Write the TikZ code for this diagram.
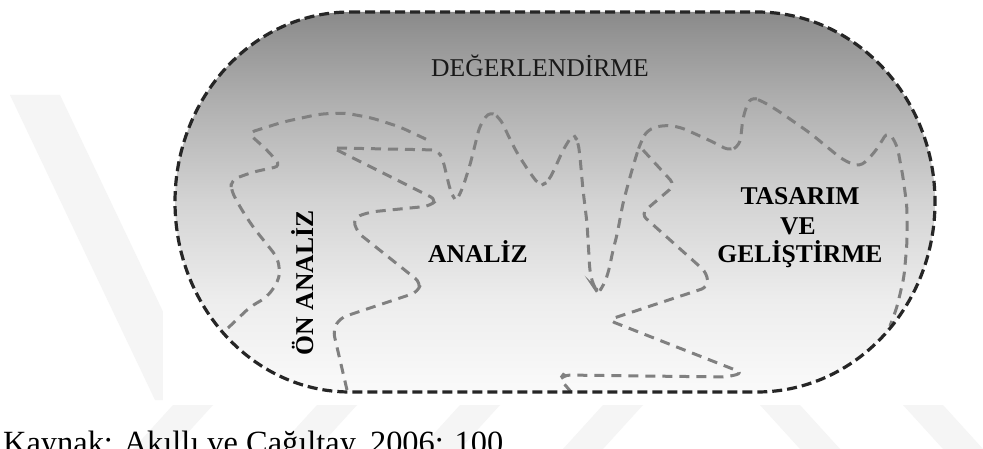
\documentclass[tikz,border=0pt]{standalone}
\usepackage{fontspec}
\setmainfont{Liberation Serif}
\begin{document}
\pgfdeclareverticalshading{stadshade}{100bp}{%
  color(0bp)=(white!98!black); color(25bp)=(white!98!black);
  color(37bp)=(white!93!black); color(50bp)=(white!83!black);
  color(63bp)=(white!69!black); color(72bp)=(white!58!black);
  color(75bp)=(white!54!black); color(100bp)=(white!54!black)}
\begin{tikzpicture}[x=1pt,y=-1pt,
  wmark/.style={fill=black!4,draw=none},
  border/.style={draw=black!85,line width=3.2pt,dash pattern=on 10pt off 5pt},
  flow/.style={draw=black!50,line width=3pt,dash pattern=on 10pt off 7pt,rounded corners=7pt},
  lbl/.style={font=\fontsize{25.6}{29}\selectfont\bfseries,text=black,inner sep=0pt,align=center},
  degtxt/.style={font=\fontsize{25.6}{29}\selectfont,text=black!90,inner sep=0pt},
  captxt/.style={font=\fontsize{32.4}{38}\selectfont,text=black,inner sep=0pt}]
\clip (0,0) rectangle (983,449);
\fill[white] (0,0) rectangle (983,449);
% watermark
\fill[wmark] (10,95) -- (60,95) -- (205,400) -- (155,400) -- cycle;
\foreach \s in {133,277,420,563}
  \fill[wmark] (\s,449) -- (\s+40,449) -- (\s+80,405) -- (\s+40,405) -- cycle;
\foreach \s in {760,903}
  \fill[wmark] (\s,405) -- (\s+40,405) -- (\s+80,449) -- (\s+40,449) -- cycle;
% diagram background
\fill[white] (163,0) rectangle (950,404);
% stadium
\path[shading=stadshade] (350,12) -- (757,12)
  arc[start angle=-90,end angle=90,x radius=178,y radius=190]
  -- (350,392)
  arc[start angle=90,end angle=270,x radius=175,y radius=190] -- cycle;
% flows
\draw[flow] (228,328) -- (250,307) -- (267,297) -- (278,282) -- (280,270) -- (277,257)
  -- (253,227) -- (240,207) -- (231,190) -- (231,180) -- (253,172) -- (281,166)
  -- (267,150) -- (248,133) -- (283,122) -- (320,114) -- (345,113) -- (372,118)
  -- (400,127) -- (432,142);
\draw[flow] (337,148) -- (438,150) -- (443,160) -- (447,177) -- (451,193) -- (456,201)
  -- (462,190) -- (470,165) -- (480,125) -- (490,111) -- (500,118) -- (507,133)
  -- (517,153) -- (530,173) -- (540,186) -- (548,182) -- (555,168) -- (563,150)
  -- (573,134) -- (578,141) -- (580,157) -- (583,190) -- (587,223) -- (590,273)
  -- (594,287) -- (598,293) -- (604,285) -- (609,270) -- (613,250) -- (617,235)
  -- (623,203) -- (630,177) -- (637,153) -- (641,142) -- (647,130) -- (663,125)
  -- (680,127) -- (713,142) -- (730,151) -- (740,145) -- (743,117) -- (750,97)
  -- (760,100) -- (777,110) -- (810,133) -- (843,160) -- (860,167) -- (875,152)
  -- (888,131) -- (897,145) -- (903,177) -- (907,207) -- (907,243) -- (904,277)
  -- (897,307) -- (890,326);
\draw[flow] (337,150) -- (437,200) -- (430,206) -- (370,212) -- (353,218) -- (357,232)
  -- (421,283) -- (418,292) -- (340,318) -- (333,330) -- (347,390);
\draw[flow] (643,150) -- (675,185) -- (641,214) -- (707,273) -- (708,287) -- (608,320)
  -- (743,373) -- (727,377) -- (563,375) -- (560,379) -- (572,393);
% border
\draw[border] (350,12) -- (757,12)
  arc[start angle=-90,end angle=90,x radius=178,y radius=190]
  -- (350,392)
  arc[start angle=90,end angle=270,x radius=175,y radius=190] -- cycle;
% labels
\node[degtxt,anchor=base] (deg) at (540,77) {DEĞERLENDİRME};
\node[lbl,anchor=base] (analiz) at (478,263) {ANALİZ};
\node[lbl,anchor=base,rotate=90] (onanaliz) at (313,283) {ÖN ANALİZ};
\node[lbl,anchor=base] (tas1) at (800,205) {TASARIM};
\node[lbl,anchor=base] (tas2) at (798,235) {VE};
\node[lbl,anchor=base] (tas3) at (800,263) {GELİŞTİRME};
\node[captxt,anchor=base west] (kaynak) at (3,453) {Kaynak: Akıllı ve Çağıltay, 2006: 100};
\end{tikzpicture}
\end{document}
